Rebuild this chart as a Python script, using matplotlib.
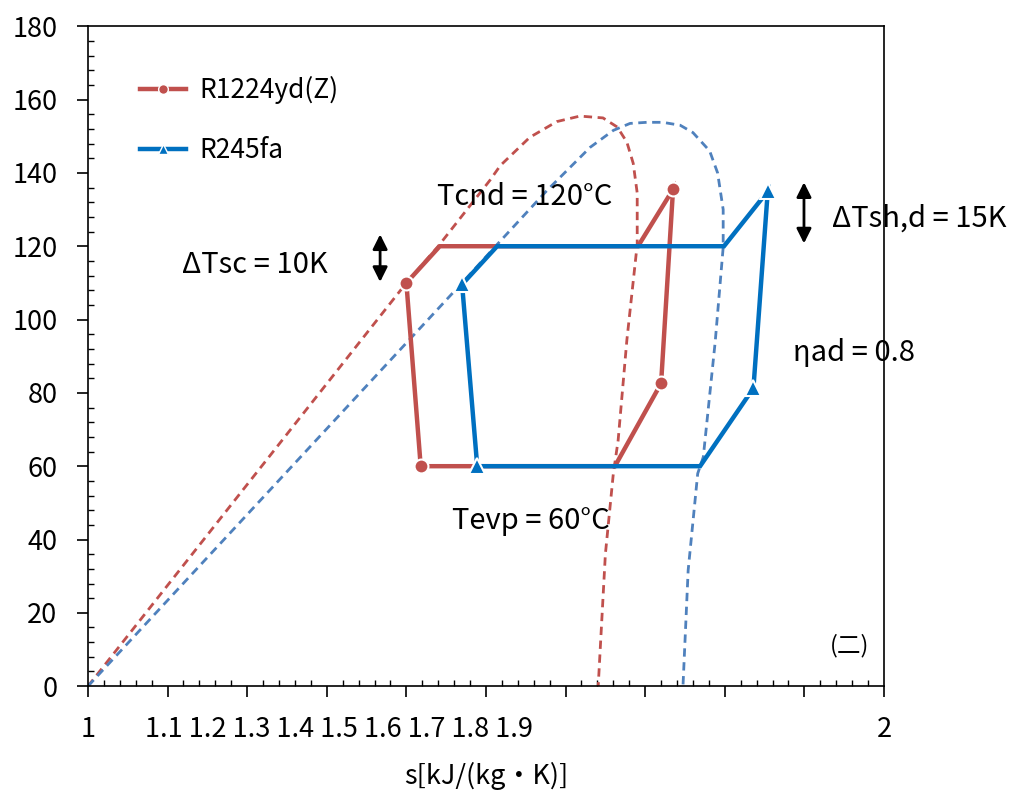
import matplotlib
matplotlib.use("Agg")
import matplotlib.pyplot as plt
from matplotlib.ticker import MultipleLocator, NullFormatter
from matplotlib.lines import Line2D

plt.rcParams['font.family'] = ['Noto Sans CJK SC', 'DejaVu Sans']

RED = '#C0504D'
BLUE = '#0070C0'
BLUE_DOME = '#4F81BD'

# saturation domes (entropy, temperature)
r1224_dome_s = [1.0, 1.40, 1.44, 1.505, 1.518, 1.555, 1.589, 1.618, 1.647, 1.665,
                1.677, 1.685, 1.690, 1.690, 1.677, 1.666, 1.660, 1.650, 1.641]
r1224_dome_t = [0, 110, 120, 138, 142, 149.7, 154, 155.5, 155, 152.5,
                148.4, 142.6, 134.5, 120.5, 94.4, 67, 58, 36, 0]

r245_dome_s = [1.0, 1.47, 1.512, 1.577, 1.631, 1.660, 1.681, 1.702, 1.722, 1.744,
               1.760, 1.781, 1.791, 1.798, 1.798, 1.788, 1.773, 1.766, 1.754, 1.7475]
r245_dome_t = [0, 110, 120, 135.3, 147, 151.6, 153.5, 153.8, 153.8, 153,
               151, 146, 140, 130, 119.7, 94, 62.5, 58, 31.6, 0]

# heat pump cycles
r1224_cycle_s = [1.418, 1.662, 1.720, 1.735, 1.691, 1.442, 1.400, 1.418]
r1224_cycle_t = [60, 60, 82.6, 135.5, 120, 120, 110, 60]
r1224_marks = [0, 2, 3, 6]

r245_cycle_s = [1.489, 1.769, 1.836, 1.854, 1.799, 1.514, 1.470, 1.489]
r245_cycle_t = [60, 60, 81.3, 135, 120, 120, 109.6, 60]
r245_marks = [0, 2, 3, 6]

fig = plt.figure(figsize=(10.17, 7.96), dpi=100)
ax = fig.add_axes([0.0865, 0.138, 0.7827, 0.829])

ax.plot(r1224_dome_s, r1224_dome_t, color=RED, lw=2.0, dashes=(3, 2))
ax.plot(r245_dome_s, r245_dome_t, color=BLUE_DOME, lw=2.0, dashes=(3, 2))

ax.plot(r1224_cycle_s, r1224_cycle_t, color=RED, lw=3.2, marker='o', ms=10,
        markevery=r1224_marks, mec='white', mew=1.5, solid_joinstyle='miter')
ax.plot(r245_cycle_s, r245_cycle_t, color=BLUE, lw=3.2, marker='^', ms=11,
        markevery=r245_marks, mec='white', mew=1.5, solid_joinstyle='miter')

ax.set_xlim(1, 2)
ax.set_ylim(0, 180)
ax.xaxis.set_major_locator(MultipleLocator(0.1))
ax.xaxis.set_minor_locator(MultipleLocator(0.02))
ax.xaxis.set_major_formatter(NullFormatter())
ax.yaxis.set_major_locator(MultipleLocator(20))
ax.yaxis.set_minor_locator(MultipleLocator(4))
ax.tick_params(which='major', direction='out', length=8, width=1.2, labelsize=19.5, pad=14)
ax.tick_params(which='minor', direction='in', length=4.5, width=1.0)
for sp in ax.spines.values():
    sp.set_linewidth(1.2)

# x tick labels
lbl_y = -0.066
ax.text(1.0, lbl_y, '1', transform=ax.get_xaxis_transform(), ha='center', va='center', fontsize=19.5)
ax.text(2.0, lbl_y, '2', transform=ax.get_xaxis_transform(), ha='center', va='center', fontsize=19.5)
ax.text(1.315, lbl_y, '1.1 1.2 1.3 1.4 1.5 1.6 1.7 1.8 1.9', transform=ax.get_xaxis_transform(),
        ha='center', va='center', fontsize=19.5)
fig.text(0.478, 1 - 776 / 796, 's[kJ/(kg·K)]', fontsize=19.5, ha='center', va='center')

# annotations
ax.text(1.438, 133.5, 'Tcnd = 120°C', fontsize=21, va='center')
ax.text(1.118, 115, 'ΔTsc = 10K', fontsize=21, va='center')
ax.text(1.935, 127.5, 'ΔTsh,d = 15K', fontsize=21, va='center')
ax.text(1.886, 91, 'ηad = 0.8', fontsize=21, va='center')
ax.text(1.457, 45, 'Tevp = 60°C', fontsize=21, va='center')
ax.text(0.957, 0.062, '(二)', transform=ax.transAxes, fontsize=17, ha='center', va='center')

arrow = dict(arrowstyle='<|-|>', color='black', lw=2.0, mutation_scale=22)
ax.annotate('', xy=(1.367, 124), xytext=(1.367, 109.5), arrowprops=arrow)
ax.annotate('', xy=(1.8995, 138.2), xytext=(1.8995, 120), arrowprops=arrow)

handles = [
    Line2D([], [], color=RED, lw=3.2, marker='o', ms=7, mec='white', mew=1),
    Line2D([], [], color=BLUE, lw=3.2, marker='^', ms=7, mec='white', mew=1),
]
ax.legend(handles, ['R1224yd(Z)', 'R245fa'], loc='upper left', bbox_to_anchor=(0.052, 0.94),
          frameon=False, fontsize=19, handlelength=1.75, labelspacing=1.25, handletextpad=0.5,
          borderaxespad=0)

fig.savefig('out.png', dpi=100)
